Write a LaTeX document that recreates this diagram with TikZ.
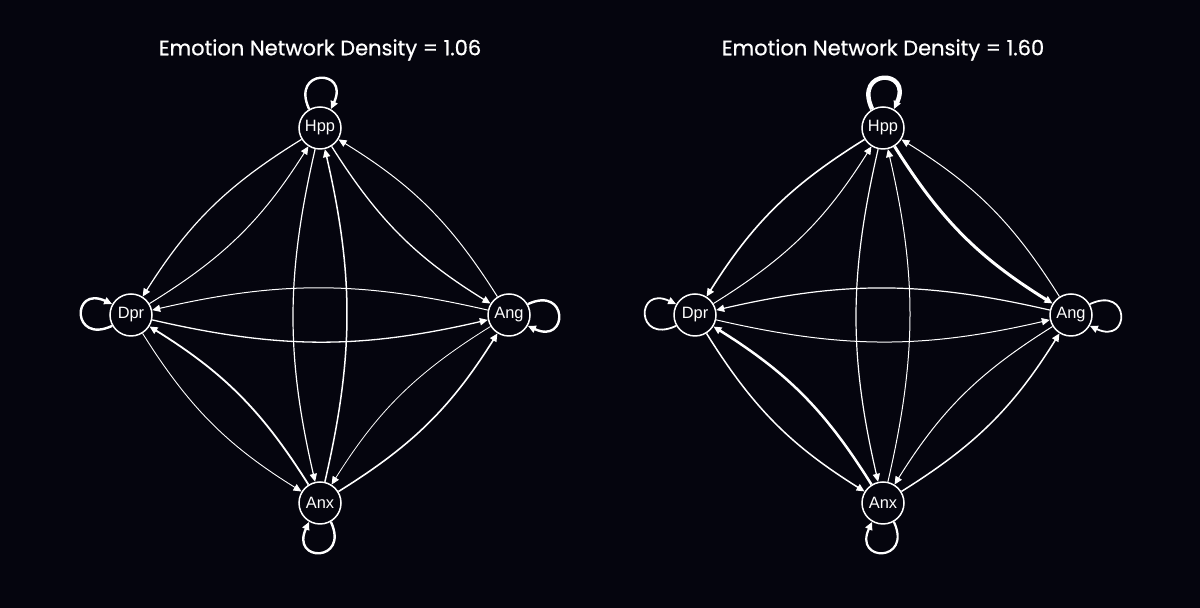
\documentclass[tikz,border=0pt]{standalone}
\usepackage{fontspec}
\setmainfont{Liberation Sans}
\newfontfamily\titlefont[FakeBold=0.7]{Poppins}
\usetikzlibrary{arrows.meta}
\definecolor{bg}{RGB}{5,5,14}
\begin{document}
\begin{tikzpicture}[x=0.5pt,y=0.5pt,
 nd/.style={circle,draw=white,line width=0.75pt,fill=bg,minimum size=21pt,inner sep=0pt,text=white,font=\fontsize{8.2}{9}\selectfont},
 ed/.style={draw=white,-{Triangle[length=4pt,width=3.6pt]}},
 bd/.style={ed,bend right=13},
 ttl/.style={text=white,font=\titlefont\fontsize{10.5}{12}\selectfont}]
\fill[bg] (0,0) rectangle (1200,608);
\useasboundingbox (0,0) rectangle (1200,608);

\node[ttl] (t1) at (320,558) {Emotion Network Density = 1.06};
\node[ttl] (t2) at (883,558) {Emotion Network Density = 1.60};

% left graph
\node[nd] (H1) at (320,480) {Hpp};
\node[nd] (D1) at (131,293) {Dpr};
\node[nd] (A1) at (509,293) {Ang};
\node[nd] (X1) at (320,105) {Anx};
% right graph
\node[nd] (H2) at (883,480) {Hpp};
\node[nd] (D2) at (695,293) {Dpr};
\node[nd] (A2) at (1071,293) {Ang};
\node[nd] (X2) at (883,105) {Anx};

% left edges
\draw[bd,line width=0.6pt] (H1) to (D1);
\draw[bd,line width=0.5pt] (D1) to (H1);
\draw[bd,line width=0.65pt] (H1) to (A1);
\draw[bd,line width=0.5pt] (A1) to (H1);
\draw[bd,line width=0.6pt] (H1) to (X1);
\draw[bd,line width=0.75pt] (X1) to (H1);
\draw[bd,line width=0.65pt] (D1) to (A1);
\draw[bd,line width=0.5pt] (A1) to (D1);
\draw[bd,line width=0.45pt] (D1) to (X1);
\draw[bd,line width=0.9pt] (X1) to (D1);
\draw[bd,line width=0.4pt] (A1) to (X1);
\draw[bd,line width=0.8pt] (X1) to (A1);
% left loops
\draw[ed,line width=1.2pt] (H1.120) .. controls +(115:45) and +(65:45) .. (H1.60);
\draw[ed,line width=1.2pt] (D1.210) .. controls +(205:45) and +(155:45) .. (D1.150);
\draw[ed,line width=1.2pt] (A1.30) .. controls +(25:45) and +(-25:45) .. (A1.-30);
\draw[ed,line width=1.2pt] (X1.300) .. controls +(295:45) and +(245:45) .. (X1.240);

% right edges
\draw[bd,line width=0.8pt] (H2) to (D2);
\draw[bd,line width=0.5pt] (D2) to (H2);
\draw[bd,line width=1.5pt] (H2) to (A2);
\draw[bd,line width=0.5pt] (A2) to (H2);
\draw[bd,line width=0.6pt] (H2) to (X2);
\draw[bd,line width=0.5pt] (X2) to (H2);
\draw[bd,line width=0.5pt] (D2) to (A2);
\draw[bd,line width=0.6pt] (A2) to (D2);
\draw[bd,line width=0.75pt] (D2) to (X2);
\draw[bd,line width=1.25pt] (X2) to (D2);
\draw[bd,line width=0.5pt] (A2) to (X2);
\draw[bd,line width=0.75pt] (X2) to (A2);
% right loops
\draw[ed,line width=2.2pt] (H2.120) .. controls +(115:45) and +(65:45) .. (H2.60);
\draw[ed,line width=0.9pt] (D2.210) .. controls +(205:45) and +(155:45) .. (D2.150);
\draw[ed,line width=0.9pt] (A2.30) .. controls +(25:45) and +(-25:45) .. (A2.-30);
\draw[ed,line width=1.1pt] (X2.300) .. controls +(295:45) and +(245:45) .. (X2.240);
\end{tikzpicture}
\end{document}
